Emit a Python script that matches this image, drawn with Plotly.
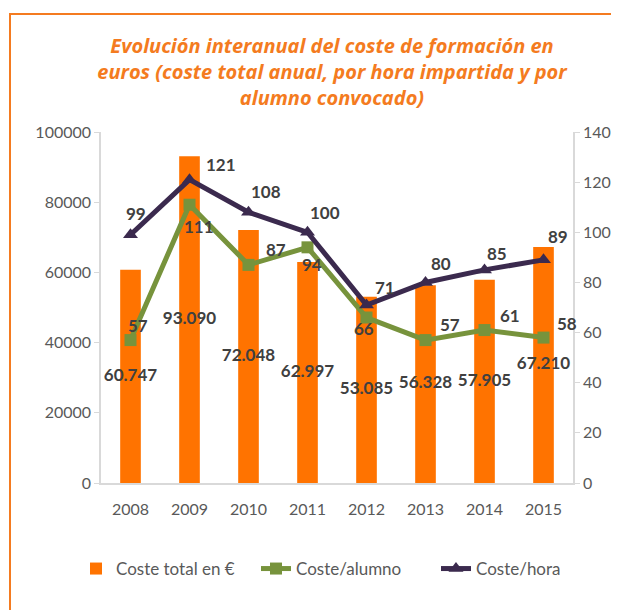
import plotly.graph_objects as go

years = ["2008", "2009", "2010", "2011", "2012", "2013", "2014", "2015"]
coste_total = [60747, 93090, 72048, 62997, 53085, 56328, 57905, 67210]
coste_alumno = [57, 111, 87, 94, 66, 57, 61, 58]
coste_hora = [99, 121, 108, 100, 71, 80, 85, 89]

# label offsets (px) relative to each point: (dx right, dy down)
alumno_off = [(7, -15), (9, 22), (27, -15), (4, 17), (-3, 11), (24, -16), (25, -15), (23, -14)]
hora_off = [(5, -21), (31, -15), (17, -21), (17, -20), (18, -17), (15, -19), (12, -16), (14, -23)]

ORANGE = "#FF7300"
GREEN = "#77933C"
PURPLE = "#3B2A4E"
LABEL = "#404040"
TICK = "#595959"
TITLE = "#F47B20"
FONT = "Lato"

total_text = [f"{v:,}".replace(",", ".") for v in coste_total]
label_font = dict(family=FONT, size=17, color=LABEL, weight="bold")

fig = go.Figure()
fig.add_trace(go.Bar(x=years, y=coste_total, name="Coste total en €",
                     marker=dict(color=ORANGE, line=dict(width=0)), width=0.35))
fig.add_trace(go.Scatter(x=years, y=[v / 2 for v in coste_total], mode="text",
                         text=total_text, showlegend=False, textfont=label_font))
fig.add_trace(go.Scatter(x=years, y=coste_alumno, name="Coste/alumno", yaxis="y2",
                         mode="lines+markers",
                         line=dict(color=GREEN, width=5),
                         marker=dict(symbol="square", size=12, color=GREEN)))
fig.add_trace(go.Scatter(x=years, y=coste_hora, name="Coste/hora", yaxis="y2",
                         mode="lines+markers",
                         line=dict(color=PURPLE, width=5),
                         marker=dict(symbol="triangle-up", size=13, color=PURPLE)))

annotations = []
for vals, offs in ((coste_alumno, alumno_off), (coste_hora, hora_off)):
    for i, (v, (dx, dy)) in enumerate(zip(vals, offs)):
        annotations.append(dict(x=i, y=v, xref="x", yref="y2", text=str(v),
                                showarrow=False, xanchor="center", yanchor="middle",
                                xshift=dx, yshift=-dy, font=label_font))

fig.update_layout(
    width=619, height=610, autosize=False,
    margin=dict(l=93, r=54, t=124, b=135, autoexpand=False),
    paper_bgcolor="white", plot_bgcolor="white",
    font=dict(family=FONT, size=16, color=TICK),
    title=dict(text="Evolución interanual del coste de formación en<br>euros (coste total anual, por hora impartida y por<br>alumno convocado)",
               x=324 / 619, xanchor="center", xref="container",
               y=1 - 45 / 610, yanchor="middle", yref="container",
               font=dict(family="Open Sans", size=20, color=TITLE, weight="bold", style="italic")),
    xaxis=dict(type="category", range=[-0.5, 7.5], showgrid=False, showline=True,
               linecolor="#D9D9D9", linewidth=1.5, ticks="", tickangle=0,
               ticklabelstandoff=11, tickfont=dict(size=16, color=TICK)),
    yaxis=dict(range=[0, 100000], dtick=20000, tickformat="d", showgrid=False,
               showline=True, linecolor="#D9D9D9", linewidth=1.5, ticks="outside",
               ticklen=5, tickcolor="#D9D9D9", zeroline=False,
               tickfont=dict(size=16, color=TICK)),
    yaxis2=dict(range=[0, 140], dtick=20, overlaying="y", side="right", showgrid=False,
                showline=True, linecolor="#D9D9D9", linewidth=1.5, ticks="outside",
                ticklen=5, tickcolor="#D9D9D9", zeroline=False,
                tickfont=dict(size=16, color=TICK)),
    legend=dict(orientation="h", x=-0.053, xanchor="left", entrywidth=135,
                y=-0.245, yanchor="middle", font=dict(size=17, color=TICK)),
    annotations=annotations,
    shapes=[dict(type="rect", xref="paper", yref="paper",
                 x0=(10 - 101) / 472, x1=(680 - 101) / 472,
                 y0=(483 - 680) / 351, y1=(483 - 14) / 351,
                 line=dict(color=TITLE, width=2), layer="below")],
)

fig.write_html("out.html")
